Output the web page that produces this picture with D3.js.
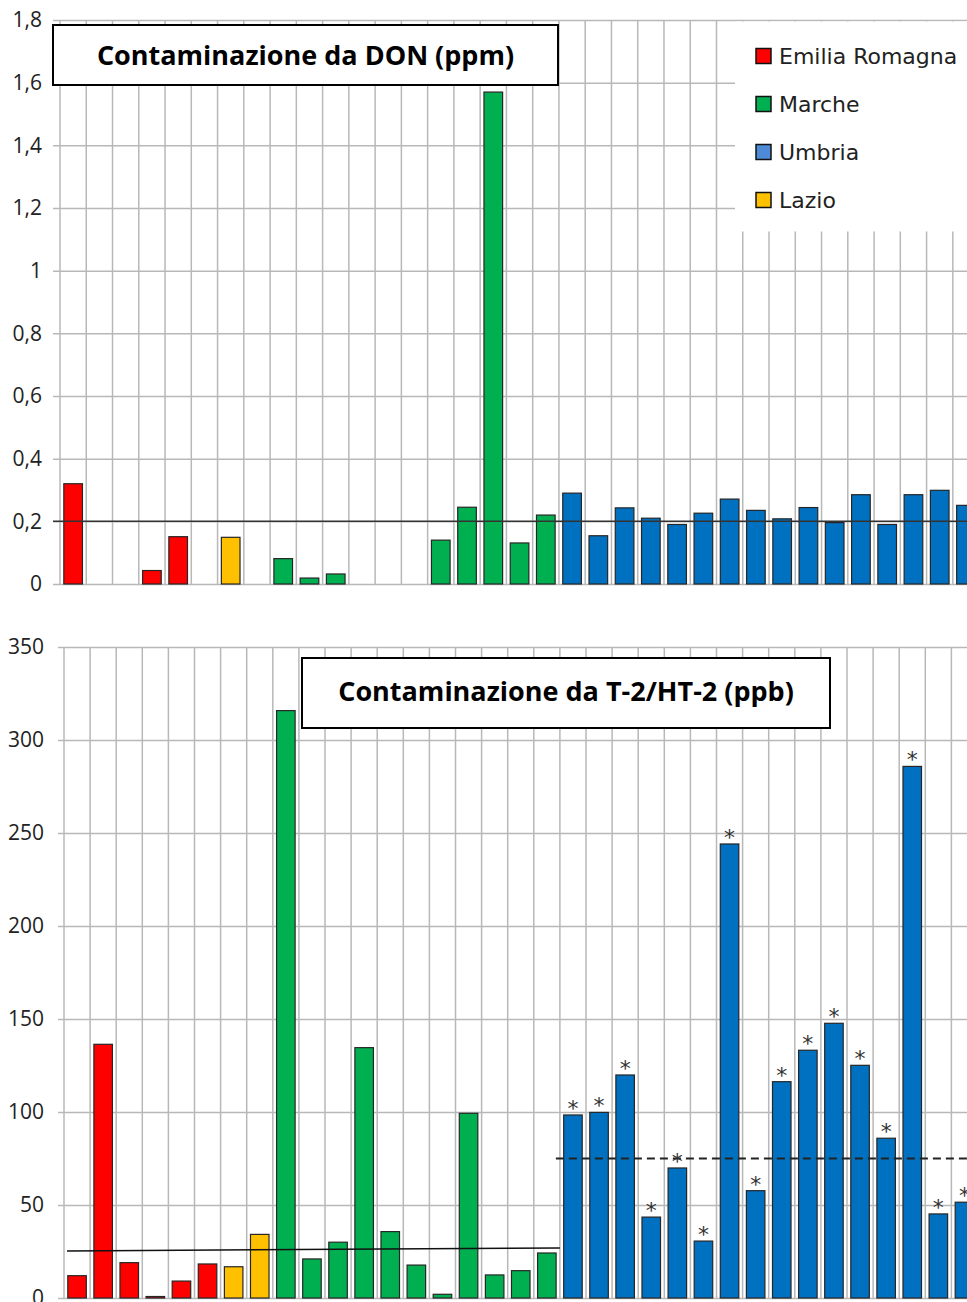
<!DOCTYPE html>
<html>
  <head>
    <meta http-equiv="Content-Type" content="text/html;charset=utf-8"/>
    <script type="text/javascript" src="https://cdn.jsdelivr.net/npm/d3@7"></script>
    <style type="text/css">
      body { margin: 0; background: #fff; }
      text { font-family: "Open Sans", sans-serif; }
      .tick text { font-size: 21px; fill: #222; }
      .grid line { stroke: #b8b8b8; stroke-width: 1.5; }
      .title { font-weight: bold; font-size: 27px; fill: #000; }
      .legend text { font-family: "DejaVu Sans", sans-serif; font-size: 22px; fill: #222; }
      .star { font-family: "DejaVu Sans", sans-serif; font-size: 22px; fill: #333; }
    </style>
  </head>
  <body>
    <svg id="con"></svg>
    <script type="text/javascript">

    // one region code per sample, same order in both panels
    var regions = ["ER","ER","ER","ER","ER","ER","LA","LA",
                   "MA","MA","MA","MA","MA","MA","MA","MA","MA","MA","MA",
                   "UM","UM","UM","UM","UM","UM","UM","UM","UM","UM","UM","UM","UM","UM","UM","UM"];

    // DON (ppm)
    var donValues = [0.32, 0, 0, 0.043, 0.151, 0, 0.149, 0,
                     0.081, 0.019, 0.032, 0, 0, 0, 0.14, 0.245, 1.57, 0.131, 0.22,
                     0.29, 0.154, 0.243, 0.21, 0.19, 0.226, 0.271, 0.235, 0.208, 0.244, 0.196, 0.285, 0.19, 0.285, 0.299, 0.251];
    var donTicks = [0, 0.2, 0.4, 0.6, 0.8, 1, 1.2, 1.4, 1.6, 1.8];
    var donLimit = 0.2;

    // T-2/HT-2 (ppb)
    var t2Values = [12, 136.4, 19, 0.8, 9.1, 18.3, 16.8, 34.2,
                    315.8, 21, 30, 134.6, 35.7, 17.7, 2, 99.3, 12.4, 14.7, 24.2,
                    98.4, 99.8, 119.9, 43.5, 69.9, 30.6, 244.1, 57.7, 116.3, 133.2, 147.7, 125.1, 85.9, 285.8, 45.2, 51.5];
    var t2Ticks = [0, 50, 100, 150, 200, 250, 300, 350];
    var t2Starred = [19, 20, 21, 22, 23, 24, 25, 26, 27, 28, 29, 30, 31, 32, 33, 34];
    var t2LimitOthers = [25.3, 26.9];   // hand drawn line, slightly sloped
    var t2LimitUmbria = 75;

    var legendNames = ["Emilia Romagna", "Marche", "Umbria", "Lazio"];
    var legendCodes = ["ER", "MA", "UM", "LA"];

    var barColor = {ER: "#ff0000", MA: "#00b050", UM: "#0070c0", LA: "#ffc000"};
    var legendColor = {ER: "#ff0000", MA: "#00b050", UM: "#4f8ad6", LA: "#ffc000"};

    var w = 967, h = 1302;
    var pad = 0.29;
    var locale = d3.formatLocale({decimal: ",", thousands: ".", grouping: [3], currency: ["", "€"]});
    var fmt = locale.format(".1~f");

    var con = d3.select("#con").attr("width", w).attr("height", h);

    function panel(opt) {
      var x = d3.scaleBand().domain(d3.range(regions.length))
          .range([opt.x0, opt.x0 + regions.length * opt.step]).padding(0);
      var y = d3.scaleLinear().domain(opt.domain).range([opt.bottom, opt.top]);
      var g = con.append("g");

      // horizontal grid + labels
      g.append("g")
          .attr("class", "grid")
          .attr("transform", "translate(" + opt.axisX + ",0)")
          .call(d3.axisLeft(y).tickValues(opt.ticks).tickFormat(fmt)
                .tickSize(-(x.range()[1] - opt.axisX)).tickPadding(opt.labelPad))
          .call(function(s) { s.select(".domain").remove(); });

      // vertical grid at category boundaries
      g.append("g").attr("class", "grid")
        .selectAll("line").data(d3.range(regions.length + 1)).enter().append("line")
          .attr("x1", function(i) { return opt.x0 + i * x.step(); })
          .attr("x2", function(i) { return opt.x0 + i * x.step(); })
          .attr("y1", y(opt.domain[1]))
          .attr("y2", y(0));

      var bars = opt.values.map(function(v, i) { return {i: i, v: v, r: regions[i]}; })
          .filter(function(d) { return d.v > 0; });

      g.selectAll("rect.bar").data(bars).enter().append("rect")
          .attr("class", "bar")
          .attr("x", function(d) { return x(d.i) + x.step() * pad / 2; })
          .attr("width", x.step() * (1 - pad))
          .attr("y", function(d) { return y(d.v); })
          .attr("height", function(d) { return y(0) - y(d.v); })
          .style("fill", function(d) { return barColor[d.r]; })
          .style("stroke", "#262626")
          .style("stroke-width", 1.2);

      return {g: g, x: x, y: y};
    }

    // ---- top panel: DON ----
    var donPanel = panel({x0: 60, step: 26.26, top: 20, bottom: 584, axisX: 53, labelPad: 11,
                     domain: [0, 1.8], ticks: donTicks, values: donValues});

    donPanel.g.append("line")
        .attr("x1", 53).attr("x2", w)
        .attr("y1", donPanel.y(donLimit)).attr("y2", donPanel.y(donLimit))
        .style("stroke", "#333").style("stroke-width", 1.5);

    donPanel.g.append("rect")
        .attr("x", 53).attr("y", 25).attr("width", 505).attr("height", 60)
        .style("fill", "#fff").style("stroke", "#000").style("stroke-width", 2);
    donPanel.g.append("text").attr("class", "title")
        .attr("x", 305.5).attr("y", 65).attr("text-anchor", "middle")
        .text("Contaminazione da DON (ppm)");

    // legend
    var legend = donPanel.g.append("g").attr("class", "legend");
    legend.append("rect").attr("x", 735).attr("y", 21.5).attr("width", w - 735).attr("height", 210)
        .style("fill", "#fff");
    var item = legend.selectAll("g.item").data(legendCodes).enter().append("g")
        .attr("class", "item")
        .attr("transform", function(d, i) { return "translate(756," + (56 + i * 48) + ")"; });
    item.append("rect").attr("x", 0).attr("y", -7.5).attr("width", 15).attr("height", 15)
        .style("fill", function(d) { return legendColor[d]; })
        .style("stroke", "#111").style("stroke-width", 1.5);
    item.append("text").attr("x", 23).attr("y", 8)
        .text(function(d, i) { return legendNames[i]; });

    // ---- bottom panel: T-2/HT-2 ----
    var t2Panel = panel({x0: 64, step: 26.1, top: 647, bottom: 1298, axisX: 58, labelPad: 14,
                     domain: [0, 350], ticks: t2Ticks, values: t2Values});

    t2Panel.g.append("line")
        .attr("x1", t2Panel.x(0) + 3).attr("x2", t2Panel.x(18) + t2Panel.x.step())
        .attr("y1", t2Panel.y(t2LimitOthers[0])).attr("y2", t2Panel.y(t2LimitOthers[1]))
        .style("stroke", "#111").style("stroke-width", 1.5);

    t2Panel.g.append("line")
        .attr("x1", t2Panel.x(19) - 4).attr("x2", w)
        .attr("y1", t2Panel.y(t2LimitUmbria)).attr("y2", t2Panel.y(t2LimitUmbria))
        .style("stroke", "#222").style("stroke-width", 2)
        .style("stroke-dasharray", "8,5");

    t2Panel.g.selectAll("text.star").data(t2Starred).enter().append("text")
        .attr("class", "star")
        .attr("x", function(i) { return t2Panel.x(i) + t2Panel.x.step() / 2; })
        .attr("y", function(i) { return t2Panel.y(t2Values[i]) + 1; })
        .attr("text-anchor", "middle")
        .text("*");

    t2Panel.g.append("rect")
        .attr("x", 302).attr("y", 658).attr("width", 528).attr("height", 70)
        .style("fill", "#fff").style("stroke", "#000").style("stroke-width", 2);
    t2Panel.g.append("text").attr("class", "title")
        .attr("x", 566).attr("y", 701).attr("text-anchor", "middle")
        .text("Contaminazione da T-2/HT-2 (ppb)");

    </script>
  </body>
</html>
